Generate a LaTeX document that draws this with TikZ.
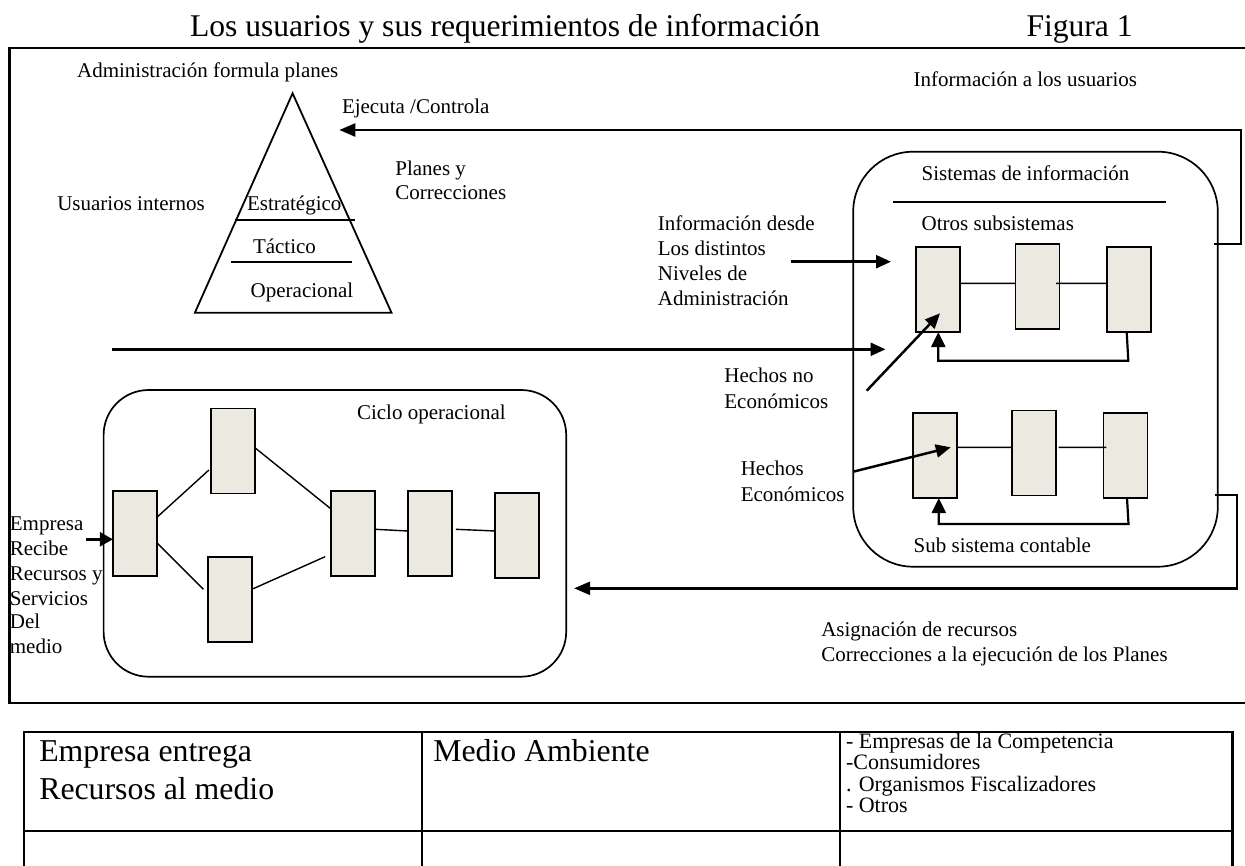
\documentclass[tikz,border=0pt]{standalone}
\usepackage{fontspec}
\setmainfont{Liberation Serif}
\usetikzlibrary{arrows.meta,calc}
\definecolor{boxfill}{RGB}{236,233,224}
\newcommand{\myBody}{\fontsize{21}{25}\selectfont}
\newcommand{\myTitle}{\fontsize{31.6}{36}\selectfont}
\newcommand{\myBig}{\fontsize{31.8}{38}\selectfont}
\newcommand{\mySmall}{\fontsize{22}{21}\selectfont}
\begin{document}
\begin{tikzpicture}[x=1pt,y=-1pt,
  txt/.style={anchor=base west, inner sep=0pt, outer sep=0pt, font=\myBody},
  ttl/.style={txt, font=\myTitle},
  big/.style={txt, font=\myBig},
  sml/.style={txt, font=\mySmall},
  pbox/.style={draw, fill=boxfill, line width=1.6pt, minimum width=44pt, minimum height=85pt, inner sep=0pt, outer sep=0pt},
  rbox/.style={draw, line width=1.7pt, inner sep=0pt, outer sep=0pt},
  thinln/.style={line width=1.4pt},
  midln/.style={line width=1.9pt},
  arr/.style={line width=2.5pt, -{Triangle[length=15pt,width=13pt]}},
  frameln/.style={line width=2.2pt},
]
\useasboundingbox (0,0) rectangle (1245,865);

% ---------- frame ----------
\coordinate (fTR) at (1245,47.7);
\coordinate (fTL) at (9.5,47.7);
\coordinate (fBL) at (9.5,703.3);
\coordinate (fBR) at (1245,703.3);
\draw[frameln] (fTR) -- (fTL) -- (fBL) -- (fBR);

% ---------- title ----------
\node[ttl] (title) at (190,36) {Los usuarios y sus requerimientos de información};
\node[ttl] (fig) at (1026.5,36) {Figura 1};

% ---------- pyramid ----------
\coordinate (apex) at (292.6,93.3);
\coordinate (bl) at (194.9,312.7);
\coordinate (br) at (391.5,312.7);
\draw[line width=1.8pt, line join=miter] (apex) -- (bl) -- (br) -- cycle;
\coordinate (l1a) at (235.3,220);
\coordinate (l1b) at (354.7,220);
\coordinate (l2a) at (230.5,261.7);
\coordinate (l2b) at (351.5,261.7);
\draw[midln] (l1a) -- (l1b);
\draw[midln] (l2a) -- (l2b);
\node[txt] (adm) at (77.1,77.3) {Administración formula planes};
\node[txt] (estr) at (247,210.7) {Estratégico};
\node[txt] (tact) at (253,253.3) {Táctico};
\node[txt] (oper) at (250.7,297.7) {Operacional};
\node[txt] (usint) at (57.3,210.7) {Usuarios internos};
\node[txt] (ejec) at (342,113.3) {Ejecuta /Controla};
\node[txt] (plan1) at (395.4,175) {Planes y};
\node[txt] (plan2) at (395.4,199.3) {Correcciones};
\node[txt] (infus) at (913.7,86) {Información a los usuarios};

% ---------- sistemas de informacion ----------
\node[rbox, rounded corners=60pt, minimum width=364.6pt, minimum height=415pt] (sis) at (1035.5,359.2) {};
\node[txt] (sistxt) at (921.7,180) {Sistemas de información};
\coordinate (sl1) at (893,201.7);
\coordinate (sl2) at (1166,201.7);
\draw[midln] (sl1) -- (sl2);
\node[txt] (otros) at (921.7,230) {Otros subsistemas};
\node[txt] (subc) at (913.7,552.7) {Sub sistema contable};

\node[pbox] (S1) at (938,289.5) {};
\node[pbox] (S2) at (1037.3,286.4) {};
\node[pbox] (S3) at (1128.7,289.5) {};
\node[pbox] (T1) at (934.9,455.5) {};
\node[pbox] (T2) at (1034.1,452.9) {};
\node[pbox] (T3) at (1125.4,455.5) {};

\draw[thinln] ($(S1.east)+(0,-6.2)$) -- ($(S2.west)+(0,-3.1)$);
\draw[thinln] ($(S2.east)+(-3.3,-3.1)$) -- ($(S3.west)+(0,-6.2)$);
\draw[thinln] ($(T1.east)+(0,-8.2)$) -- ($(T2.west)+(-1,-5.6)$);
\draw[thinln] ($(T2.east)+(2.4,-5.6)$) -- ($(T3.west)+(3,-8.2)$);

\coordinate (fbA) at (1128.3,360.7);
\coordinate (fbB) at (938.3,360.7);
\draw[line width=2.2pt, -{Triangle[length=15pt,width=14pt]}] ($(S3.south)+(-2,0)$) -- (fbA) -- (fbB) -- (S1.south -| fbB);
\coordinate (fcA) at (1128.5,524);
\coordinate (fcB) at (938.8,524);
\draw[line width=2.2pt, -{Triangle[length=15pt,width=14pt]}] ($(T3.south)+(1.6,0)$) -- (fcA) -- (fcB) -- (T1.south -| fcB);

% info from levels
\node[txt] (inf1) at (657.9,230) {Información desde};
\node[txt] (inf2) at (657.9,255) {Los distintos};
\node[txt] (inf3) at (657.9,280) {Niveles de};
\node[txt] (inf4) at (657.9,305) {Administración};
\coordinate (infA) at (791.4,261.7);
\coordinate (infB) at (891,261.7);
\draw[arr] (infA) -- (infB);

% long arrow
\coordinate (lgA) at (111.9,349.3);
\coordinate (lgB) at (885.5,349.3);
\draw[arr] (lgA) -- (lgB);

% hechos
\node[txt] (hn1) at (724.4,382.7) {Hechos no};
\node[txt] (hn2) at (724.4,408.3) {Económicos};
\node[txt] (he1) at (740.8,475) {Hechos};
\node[txt] (he2) at (740.8,501.7) {Económicos};
\coordinate (hnA) at (866.7,390.7);
\draw[arr] (hnA) -- ($(S1.center)+(2,23.8)$);
\coordinate (heA) at (853.2,471.7);
\draw[arr] (heA) -- ($(T1.center)+(15.9,-8.2)$);

% Ejecuta / Controla feedback
\coordinate (ejA) at (1213.9,244);
\coordinate (ej1) at (1241,244);
\coordinate (ej2) at (1241,130);
\coordinate (ejtip) at (339.3,130);
\draw[line width=2.4pt, -{Triangle[length=16pt,width=13pt]}] (ejA) -- (ej1) -- (ej2) -- (ejtip);

% ---------- ciclo operacional ----------
\node[rbox, rounded corners=45pt, minimum width=462.6pt, minimum height=286.7pt] (ciclo) at (334.9,533.35) {};
\node[txt] (ciclotxt) at (357,419.3) {Ciclo operacional};
\node[pbox] (A) at (134.9,533.2) {};
\node[pbox] (B) at (232.9,450.8) {};
\node[pbox] (C) at (230.2,599.2) {};
\node[pbox] (D) at (353.1,533.2) {};
\node[pbox] (E) at (429.9,533.2) {};
\node[pbox] (F) at (517.2,535.2) {};
\draw[thinln] ($(A.east)+(0,-15.9)$) -- ($(B.west)+(-2,19.2)$);
\draw[thinln] ($(A.east)+(0,9.5)$) -- ($(C.west)+(-4.8,-9.9)$);
\draw[thinln] ($(B.east)+(0,-3.1)$) -- ($(D.west)+(0,-24.2)$);
\draw[thinln] ($(C.east)+(1,-10.5)$) -- ($(D.west)+(-6,23.5)$);
\draw[thinln] ($(D.east)+(0,-3.9)$) -- ($(E.west)+(0,-2.2)$);
\draw[thinln] ($(E.east)+(4,-3.9)$) -- ($(F.west)+(0,-4.2)$);

% input to ciclo
\coordinate (inA) at (86.2,539.3);
\draw[line width=2.4pt, -{Triangle[length=13pt,width=14pt]}] (inA) -- (A.west |- inA);
\node[txt] (em1) at (9.9,530) {Empresa};
\node[txt] (em2) at (9.9,555) {Recibe};
\node[txt] (em3) at (9.9,580) {Recursos y};
\node[txt] (em4) at (9.9,605) {Servicios};
\node[txt] (em5) at (9.9,628.5) {Del};
\node[txt] (em6) at (9.9,653.3) {medio};

% return: asignacion de recursos
\coordinate (rtA) at (1215,495);
\coordinate (rt1) at (1237,495);
\coordinate (rt2) at (1237,588.3);
\coordinate (rttip) at (574.1,588.3);
\draw[line width=2.4pt, -{Triangle[length=16pt,width=13pt]}] (rtA) -- (rt1) -- (rt2) -- (rttip);
\node[txt] (asg1) at (821.3,636.7) {Asignación de recursos};
\node[txt] (asg2) at (821.3,661.7) {Correcciones a la ejecución de los Planes};

% ---------- table ----------
\coordinate (tTL) at (24,731.7);
\coordinate (tTR) at (1232.3,731.7);
\coordinate (tBL) at (24,866);
\coordinate (tBR) at (1232.3,866);
\draw[line width=2.4pt] (tBL) -- (tTL) -- (tTR) -- (tBR);
\coordinate (tm1) at (24,831);
\coordinate (tm2) at (1232.3,831);
\draw[line width=2.4pt] (tm1) -- (tm2);
\coordinate (tc1a) at (421.7,731.7);
\coordinate (tc1b) at (421.7,866);
\coordinate (tc2a) at (840,731.7);
\coordinate (tc2b) at (840,866);
\draw[line width=2pt] (tc1a) -- (tc1b);
\draw[line width=2pt] (tc2a) -- (tc2b);
\node[big] (tb1) at (39.3,761.5) {Empresa entrega};
\node[big] (tb2) at (39.3,799.3) {Recursos al medio};
\node[big] (tb3) at (433.3,761.5) {Medio Ambiente};
\node[sml] (tr1) at (846,748) {- Empresas de la Competencia};
\node[sml] (tr2) at (846,769.5) {-Consumidores};
\node[sml] (tr3) at (846,791) {. Organismos Fiscalizadores};
\node[sml] (tr4) at (846,812.5) {- Otros};
\end{tikzpicture}
\end{document}
